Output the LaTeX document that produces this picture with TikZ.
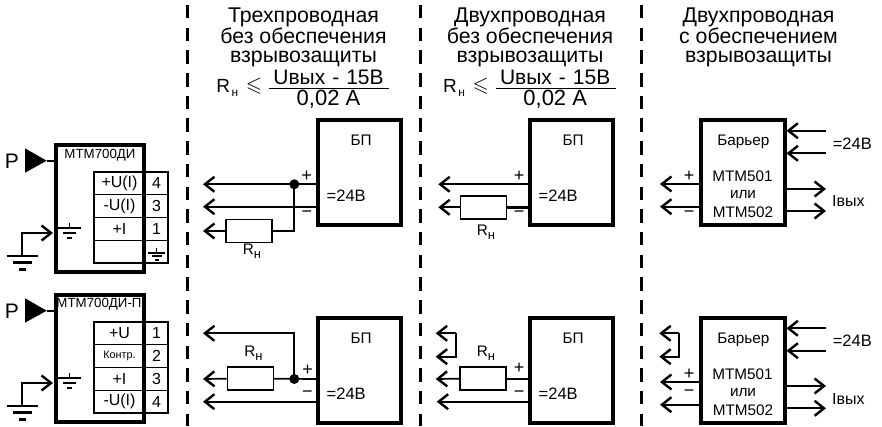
\documentclass[tikz,border=0pt]{standalone}
\usepackage{amssymb}
\usepackage{fontspec}
\setmainfont{Liberation Sans}
\usetikzlibrary{arrows.meta}

\tikzset{
wire/.style={line width=1.7pt},
thickwire/.style={line width=3pt},
arr/.style={wire,-{Straight Barb[length=9.5pt,width=15pt,line width=2.4pt]}},
box/.style={draw,line width=4pt,minimum width=83pt,minimum height=105.5pt,inner sep=0pt},
modbox/.style={draw,line width=4pt,minimum width=88pt,minimum height=127.5pt,inner sep=0pt},
resist/.style={draw,line width=1.5pt,minimum width=46pt,minimum height=23pt,inner sep=0pt},
cell/.style={draw,line width=1.4pt,minimum height=22.75pt,inner sep=0pt,font=\fontsize{16}{16}\selectfont},
sep/.style={line width=3pt,dash pattern=on 13.5pt off 9.2pt},
txt/.style={inner sep=0pt,font=\fontsize{15.3}{15.3}\selectfont},
volt/.style={inner sep=0pt,font=\fontsize{16.5}{16.5}\selectfont},
sign/.style={inner sep=0pt,font=\fontsize{18}{18}\selectfont},
head/.style={inner sep=0pt,align=center,font=\fontsize{21.3}{18.8}\selectfont},
big/.style={inner sep=0pt,font=\fontsize{21}{21}\selectfont},
}
\newcommand{\Rn}{R\raisebox{-4pt}{\fontsize{13}{13}\selectfont н}}

\begin{document}
\begin{tikzpicture}[x=1pt,y=-1pt]
\useasboundingbox (0,0) rectangle (882,427);

% separators
\foreach \x in {187,420,641}{
\draw[sep] (\x,5)--(\x,426);
}

% headings
\node[head] (h1) at (303.5,37) {Трехпроводная\\без обеспечения\\взрывозащиты};
\node[head] (h2) at (530,37) {Двухпроводная\\без обеспечения\\взрывозащиты};
\node[head] (h3) at (758.5,37) {Двухпроводная\\с обеспечением\\взрывозащиты};

% formulas
\foreach \n/\x in {1/0,2/226.7}{
\node[big,font=\fontsize{19}{19}\selectfont] (fr\n) at (223.3+\x,86) {R};
\node[inner sep=0pt,font=\fontsize{12}{12}\selectfont] (fs\n) at (235+\x,93) {н};
\node[big] (fl\n) at (254+\x,86) {$\leqslant$};
\node[big] (fa\n) at (328.5+\x,77) {Uвых\,\,-\,\,15В};
\node[big,font=\fontsize{22}{22}\selectfont] (fb\n) at (328.5+\x,99.5) {0,02 А};
\draw[line width=1.2pt] (269.3+\x,88.3)--(389.3+\x,88.3);
}

% sensors
\foreach \s in {0,150}{
\begin{scope}[shift={(0,\s)}]
\fill (25,148.3)--(46.7,160.7)--(25,172.7)--cycle;
\node[big] (p\s) at (12,161.5) {Р};
\coordinate (pt\s) at (46.7,160.7);
\coordinate (ge\s) at (21.7,256);
\coordinate (ga\s) at (53,233);
\draw[line width=2.6pt] (6.7,256)--(38.3,256);
\draw[line width=2.6pt] (13,262.7)--(32,262.7);
\draw[line width=2.6pt] (19,269.3)--(25.7,269.3);
\draw[wire] (69.5,223)--(69.5,228.3);
\draw[wire] (58,228.3)--(81,228.3);
\draw[wire] (63,233)--(76,233);
\draw[wire] (66.7,238)--(72.3,238);
\draw[arr] (ge\s) |- (ga\s);
\end{scope}
}

% left table 1
\foreach \i/\y/\a/\b in {1/183.4/{+U(I)}/4,2/206.1/{-U(I)}/3,3/228.9/{+I}/1,4/251.6/{}/{}}{
\node[cell,minimum width=51pt] (ta\i) at (119.5,\y) {\a};
\node[cell,minimum width=23pt] (tb\i) at (156.5,\y) {\b};
}
\draw[wire] (156.5,248.3)--(156.5,252.7);
\draw[wire] (148,252.7)--(165,252.7);
\draw[wire] (152,256.2)--(162,256.2);
\draw[wire] (155,260)--(159,260);
% left table 2
\foreach \i/\y/\a/\b in {1/333.4/{+U}/1,2/356.1/{\fontsize{10.8}{10.8}\selectfont Контр.}/2,3/378.9/{+I}/3,4/401.6/{-U(I)}/4}{
\node[cell,minimum width=51pt] (tc\i) at (119.5,\y) {\a};
\node[cell,minimum width=23pt] (td\i) at (156.5,\y) {\b};
}

\node[modbox] (mod0) at (100,208.7) {};
\node[modbox] (mod150) at (100,358.7) {};
\node[inner sep=0pt,font=\fontsize{13.3}{13.3}\selectfont] (n0) at (100,155) {МТМ700ДИ};
\node[inner sep=0pt,font=\fontsize{13.3}{13.3}\selectfont] (n150) at (99,304.5) {МТМ700ДИ-П};
\draw[wire] (pt0)--(mod0.west |- pt0);
\coordinate (pt1) at (46.7,310.7);
\draw[wire] (pt1)--(mod150.west |- pt1);

% power supplies
\foreach \n/\x/\y in {a/359.7/172.7,b/359.7/370.7,c/571.7/172.7,d/571.7/370.7}{
\node[box] (bp\n) at (\x,\y) {};
\node[txt] (bt\n) at (\x+1.5,\y-32) {БП};
\node[volt] (bv\n) at (\x-13.5,\y+23.3) {=24В};
}

% three wires, upper
\coordinate (e1) at (203,184.3);
\coordinate (e2) at (203,206.7);
\coordinate (e3) at (203,231);
\coordinate (j1) at (294.3,184.3);
\node[resist] (r1) at (249,231) {};
\draw[arr] (bpa.west |- e1)--(e1);
\draw[arr] (bpa.west |- e2)--(e2);
\draw[arr] (r1.west)--(e3);
\draw[wire] (r1.east) -| (j1);
\fill (j1) circle (5);
\node[txt] (ra) at (252,251.5) {\Rn};
\node[sign] (pa) at (306.7,176.7) {+};
\node[sign] (ma) at (307,214) {−};

% three wires, lower
\coordinate (e4) at (203,333.3);
\coordinate (e5) at (203,379);
\coordinate (e6) at (203,401.7);
\coordinate (j2) at (294.3,379);
\node[resist] (r2) at (250.3,378.7) {};
\draw[arr] (j2) |- (e4);
\draw[arr] (r2.west)--(e5);
\draw[arr] (bpb.west |- e6)--(e6);
\draw[wire] (r2.east)--(bpb.west |- j2);
\fill (j2) circle (5);
\node[txt] (rb) at (253.5,353) {\Rn};
\node[sign] (pb) at (307.7,370.7) {+};
\node[sign] (mb) at (307.3,394.3) {−};

% two wires, upper
\coordinate (e7) at (438.3,184.3);
\coordinate (e8) at (438.3,207.3);
\node[resist] (r3) at (483.7,207.3) {};
\draw[arr] (bpc.west |- e7)--(e7);
\draw[arr] (r3.west)--(e8);
\draw[thickwire] (r3.east)--(bpc.west |- r3.east);
\node[txt] (rc) at (486,232) {\Rn};
\node[sign] (pc) at (519,176.7) {+};
\node[sign] (mc) at (519,214) {−};

% two wires, lower
\coordinate (e9) at (435.7,333.3);
\coordinate (e10) at (435.7,356.7);
\coordinate (e11) at (435.7,379);
\coordinate (e12) at (436.7,401.7);
\coordinate (k1) at (456,333.3);
\node[resist] (r4) at (483,378.7) {};
\draw[arr] (k1)--(e9);
\draw[arr] (k1)--(456,356.7)--(e10);
\draw[arr] (r4.west)--(e11);
\draw[wire] (r4.east)--(bpd.west |- r4.east);
\draw[arr] (bpd.west |- e12)--(e12);
\node[txt] (rd) at (486,353) {\Rn};
\node[sign] (pd) at (519,368) {+};
\node[sign] (md) at (519,394) {−};

% barriers
\foreach \n/\s in {e/0,f/198}{
\begin{scope}[shift={(0,\s)}]
\node[box,minimum width=84pt] (bar\n) at (742.5,172.7) {};
\node[txt] (b1\n) at (743.3,142.3) {Барьер};
\node[txt] (b2\n) at (742.5,176.7) {МТМ501};
\node[txt] (b3\n) at (743,194.3) {или};
\node[txt] (b4\n) at (743,212.3) {МТМ502};
\coordinate (m1\n) at (660,184);
\coordinate (m2\n) at (660,206.7);
\draw[arr] (bar\n.west |- m1\n)--(m1\n);
\draw[arr] (bar\n.west |- m2\n)--(m2\n);
\node[sign] (m3\n) at (689,176) {+};
\end{scope}
}
\node[sign] (m4e) at (689,214) {−};
\node[sign] (m4f) at (689,393.3) {−};
\foreach \n/\a/\b/\c/\d/\v/\i in {e/130.7/153.3/189/211/143.3/201,f/328.3/350.7/386/408.3/341/399}{
\coordinate (i1\n) at (826,\a);
\coordinate (i2\n) at (826,\b);
\coordinate (o1\n) at (826,\c);
\coordinate (o2\n) at (826,\d);
\draw[arr] (i1\n)--(bar\n.east |- i1\n);
\draw[arr] (i2\n)--(bar\n.east |- i2\n);
\draw[arr] (bar\n.east |- o1\n)--(o1\n);
\draw[arr] (bar\n.east |- o2\n)--(o2\n);
\node[volt] (v\n) at (852.3,\v) {=24В};
\node[txt,font=\fontsize{16}{16}\selectfont] (c\n) at (848.3,\i) {Iвых};
}
\coordinate (l1) at (659.3,333.3);
\coordinate (l2) at (659.3,356.7);
\coordinate (l3) at (679.3,333.3);
\draw[arr] (l3)--(l1);
\draw[arr] (l3)--(679.3,356.7)--(l2);
\end{tikzpicture}
\end{document}
